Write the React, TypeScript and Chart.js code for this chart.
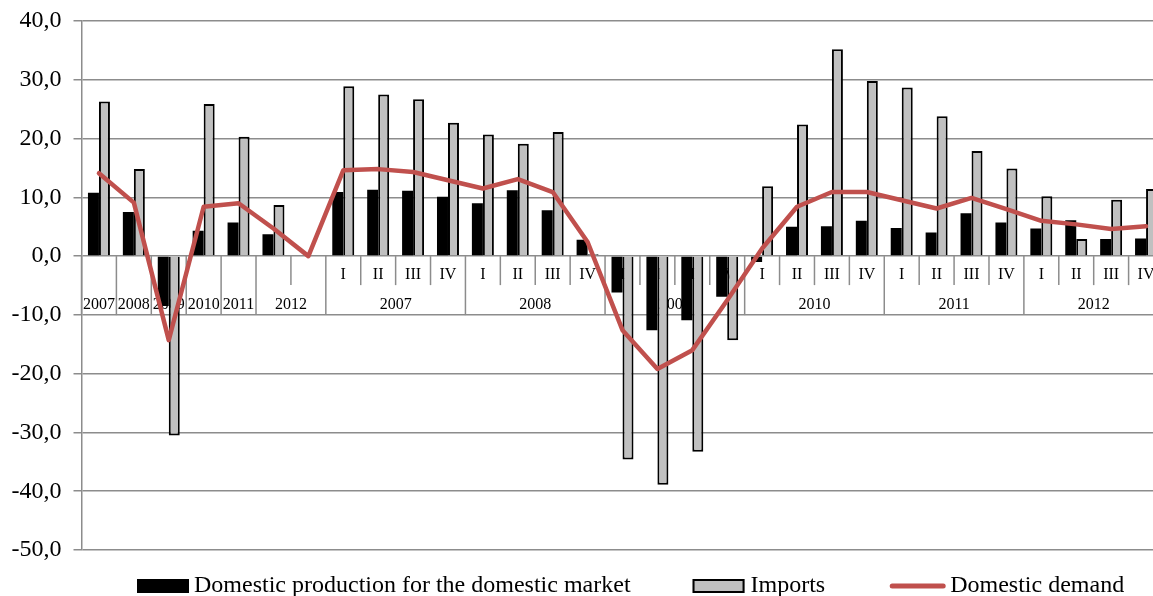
import React, { useEffect, useRef } from 'react';
import { Chart, registerables } from 'chart.js';

Chart.register(...registerables);

// ---- data ----
const annualYears = ['2007', '2008', '2009', '2010', '2011', '2012'];
const quarterYears = ['2007', '2008', '2009', '2010', '2011', '2012'];
const quarterNames = ['I', 'II', 'III', 'IV'];

const productionAnnual = [10.8, 7.5, -8.5, 4.3, 5.7, 3.7];
const productionQuarterly = [
  10.9, 11.3, 11.1, 10.1,
  9.0, 11.2, 7.8, 2.8,
  -6.2, -12.6, -10.9, -6.9,
  -1.0, 5.0, 5.1, 6.0,
  4.8, 4.0, 7.3, 5.7,
  4.7, 6.1, 2.9, 3.0,
];

const importsAnnual = [26.3, 14.8, -30.5, 25.9, 20.3, 8.7];
const importsQuarterly = [
  28.9, 27.5, 26.7, 22.7,
  20.7, 19.1, 21.1, 0.3,
  -34.6, -38.9, -33.3, -14.3,
  11.9, 22.4, 35.2, 29.8,
  28.7, 23.8, 17.9, 14.9,
  10.2, 2.9, 9.6, 11.4,
];

const demandAnnual = [14.1, 9.1, -14.3, 8.4, 9.0, 4.7];
const demandGap = 0;
const demandQuarterly = [
  14.6, 14.8, 14.3, 12.9,
  11.5, 13.1, 10.9, 2.4,
  -12.6, -19.2, -16.0, -7.5,
  1.3, 8.4, 10.9, 10.9,
  9.5, 8.1, 9.9, 8.0,
  6.0, 5.4, 4.6, 5.1,
];

const seriesNames = ['Domestic production for the domestic market', 'Imports', 'Domestic demand'];
const yMin = -50;
const yMax = 40;
const yStep = 10;

const SERIF = '"Liberation Serif", "Times New Roman", serif';
const GRID = '#8c8c8c';
const RED = '#c0504d';
const GREY = '#c0c0c0';

const quarterLabels = quarterYears.flatMap((y) => quarterNames.map((q) => `${q} ${y}`));
const categories = [...annualYears, '', ...quarterLabels];

const tablePlugin = {
  id: 'categoryTable',
  beforeDatasetsDraw(chart: any) {
    const { ctx } = chart;
    const xs = chart.scales.x;
    const ys = chart.scales.y;
    const y0 = ys.getPixelForValue(0);
    const shortBottom = y0 + 29;
    const fullBottom = y0 + 59;
    const w = xs.getPixelForValue(1) - xs.getPixelForValue(0);
    const bound = (i: number) => xs.getPixelForValue(i) - w / 2;
    const nA = annualYears.length;
    const qStart = nA + 1;
    const n = categories.length;
    ctx.save();
    ctx.strokeStyle = GRID;
    ctx.lineWidth = 1.5;
    for (let b = 0; b <= n; b++) {
      let full = true;
      if (b === nA) full = false;
      else if (b > qStart && (b - qStart) % 4 !== 0) full = false;
      const x = bound(b);
      ctx.beginPath();
      ctx.moveTo(x, y0);
      ctx.lineTo(x, full ? fullBottom : shortBottom);
      ctx.stroke();
    }
    ctx.fillStyle = '#000';
    ctx.font = `16px ${SERIF}`;
    ctx.textAlign = 'center';
    ctx.textBaseline = 'middle';
    annualYears.forEach((yr, i) => {
      const span = i === nA - 1 ? 2 : 1;
      const cx = (bound(i) + bound(i + span)) / 2;
      ctx.fillText(yr, cx, y0 + 49);
    });
    quarterYears.forEach((yr, yi) => {
      quarterNames.forEach((q, qi) => {
        const idx = qStart + yi * 4 + qi;
        ctx.fillText(q, xs.getPixelForValue(idx), y0 + 19);
      });
      const cx = (bound(qStart + yi * 4) + bound(qStart + yi * 4 + 4)) / 2;
      ctx.fillText(yr, cx, y0 + 49);
    });
    ctx.restore();
  },
};

const legendPlugin = {
  id: 'customLegend',
  afterDraw(chart: any) {
    const { ctx } = chart;
    ctx.save();
    ctx.font = `24px ${SERIF}`;
    ctx.textBaseline = 'middle';
    ctx.textAlign = 'left';
    const cy = 586;
    let x = 137;
    const gaps = [62, 65, 0];
    seriesNames.forEach((name, i) => {
      if (i === 0) {
        ctx.fillStyle = '#000';
        ctx.fillRect(x, cy - 7, 52, 14);
        x += 52 + 5;
      } else if (i === 1) {
        ctx.fillStyle = GREY;
        ctx.fillRect(x, cy - 7, 52, 14);
        ctx.strokeStyle = '#000';
        ctx.lineWidth = 2;
        ctx.strokeRect(x + 1, cy - 6, 50, 12);
        x += 52 + 6;
      } else {
        ctx.strokeStyle = RED;
        ctx.lineWidth = 5;
        ctx.lineCap = 'round';
        ctx.beginPath();
        ctx.moveTo(x + 2, cy);
        ctx.lineTo(x + 53, cy);
        ctx.stroke();
        x += 55 + 5;
      }
      ctx.fillStyle = '#000';
      ctx.fillText(name, x, cy);
      x += ctx.measureText(name).width + gaps[i];
    });
    ctx.restore();
  },
};

export default function App() {
  const ref = useRef<HTMLCanvasElement>(null);
  useEffect(() => {
    if (!ref.current) return;
    const chart = new Chart(ref.current, {
      type: 'bar',
      data: {
        labels: categories,
        datasets: [
          {
            type: 'line',
            label: seriesNames[2],
            data: [...demandAnnual, demandGap, ...demandQuarterly],
            borderColor: RED,
            backgroundColor: RED,
            borderWidth: 4.5,
            pointRadius: 0,
            tension: 0,
            borderJoinStyle: 'round',
            borderCapStyle: 'round',
            order: 0,
          } as any,
          {
            type: 'bar',
            label: seriesNames[0],
            data: [...productionAnnual, null, ...productionQuarterly],
            backgroundColor: '#000',
            borderColor: '#000',
            borderWidth: 0,
            order: 1,
          },
          {
            type: 'bar',
            label: seriesNames[1],
            data: [...importsAnnual, null, ...importsQuarterly],
            backgroundColor: GREY,
            borderColor: '#000',
            borderWidth: 2,
            order: 1,
          },
        ],
      },
      options: {
        responsive: false,
        animation: false,
        devicePixelRatio: 1,
        layout: { padding: { left: 0, right: 6.5, top: 21, bottom: 46 } },
        datasets: {
          bar: { categoryPercentage: 0.63, barPercentage: 1.0 },
        },
        plugins: {
          legend: { display: false },
          tooltip: { enabled: false },
          title: { display: false },
        },
        scales: {
          x: {
            display: false,
            grid: { display: false },
          },
          y: {
            min: yMin,
            max: yMax,
            afterFit: (scale: any) => {
              scale.width = 81.5;
            },
            ticks: {
              stepSize: yStep,
              color: '#000',
              padding: 12,
              font: { family: SERIF, size: 24, lineHeight: 0.6 },
              callback: (v: any) => Number(v).toFixed(1).replace('.', ','),
            },
            grid: {
              color: GRID,
              lineWidth: 1.5,
              tickLength: 8,
            },
            border: { display: true, color: GRID, width: 1.5 },
          },
        },
      },
      plugins: [tablePlugin, legendPlugin],
    });
    return () => chart.destroy();
  }, []);
  return (
    <div
      style={{
        position: 'fixed',
        left: 0,
        top: 0,
        width: 1153,
        height: 596,
        overflow: 'hidden',
        background: '#fff',
      }}
    >
      <canvas ref={ref} width={1170} height={596} style={{ display: 'block' }} />
    </div>
  );
}
